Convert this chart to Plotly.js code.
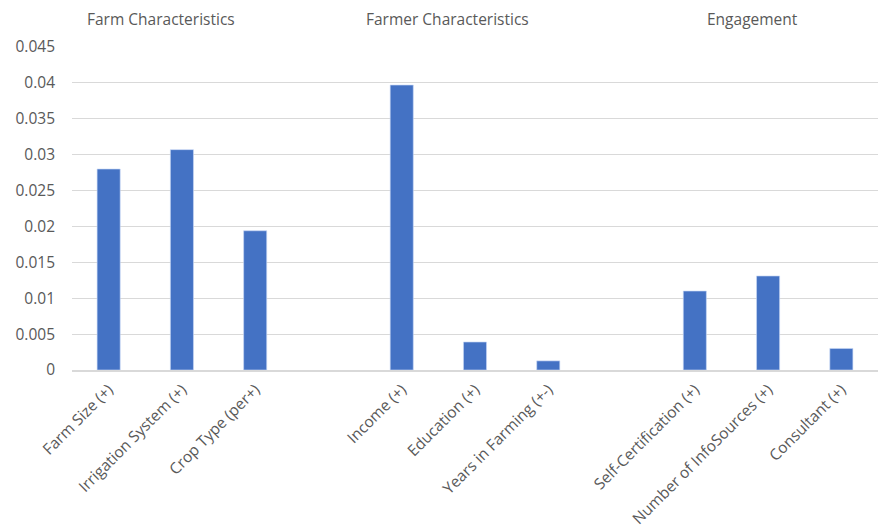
<!DOCTYPE html>
<html>
<head>
<meta charset="utf-8">
<script src="https://cdn.plot.ly/plotly-3.0.1.min.js"></script>
<style>html,body{margin:0;padding:0;background:#fff;}#chart{width:879px;height:530px;}</style>
</head>
<body>
<div id="chart"></div>
<script>
// Categories (blank slots separate the three groups)
const categories = [
  "Farm Size (+)", "Irrigation System (+)", "Crop Type (per+)", " ",
  "Income (+)", "Education (+)", "Years in Farming (+-)", "  ",
  "Self-Certification (+)", "Number of InfoSources (+)", "Consultant (+)"
];
const values = [
  0.0280, 0.0307, 0.0194, null,
  0.0397, 0.0039, 0.00127, null,
  0.0110, 0.0131, 0.0030
];
const groupLabels = ["Farm Characteristics", "Farmer Characteristics", "Engagement"];
const groupPos = [0.111, 0.466, 0.844];
const yTicks = [0, 0.005, 0.01, 0.015, 0.02, 0.025, 0.03, 0.035, 0.04, 0.045];
const yTickText = ["0", "0.005", "0.01", "0.015", "0.02", "0.025", "0.03", "0.035", "0.04", "0.045"];

const font = "Open Sans, sans-serif";
const textColor = "#595959";

const trace = {
  type: "bar",
  x: categories,
  y: values,
  marker: { color: "#4472C4", line: { color: "rgba(200,215,245,0.8)", width: 0.8 } },
  hoverinfo: "x+y"
};

const layout = {
  width: 879, height: 530,
  margin: { l: 72, r: 1, t: 47, b: 160 },
  paper_bgcolor: "#ffffff",
  plot_bgcolor: "#ffffff",
  showlegend: false,
  bargap: 0.685,
  font: { family: font, color: textColor, size: 15 },
  xaxis: {
    type: "category",
    tickangle: -45,
    showgrid: false,
    showline: true,
    linecolor: "#d9d9d9",
    linewidth: 1.5,
    ticks: "",
    ticklabelstandoff: 3,
    tickfont: { family: font, size: 15.5, color: textColor },
    zeroline: false
  },
  yaxis: {
    range: [0, 0.045],
    tickvals: yTicks,
    ticktext: yTickText,
    showgrid: true,
    gridcolor: "#d9d9d9",
    gridwidth: 1,
    zeroline: false,
    showline: false,
    ticks: "",
    ticklen: 0,
    ticklabelstandoff: 16,
    tickfont: { family: font, size: 15.5, color: textColor }
  },
  annotations: groupLabels.map((t, i) => ({
    text: t,
    xref: "paper", yref: "paper",
    x: groupPos[i], y: 1.0,
    yshift: 28,
    xanchor: "center", yanchor: "middle",
    showarrow: false,
    font: { family: font, size: 15.5, color: textColor }
  }))
};

Plotly.newPlot("chart", [trace], layout, { displayModeBar: false, staticPlot: true });
</script>
</body>
</html>
